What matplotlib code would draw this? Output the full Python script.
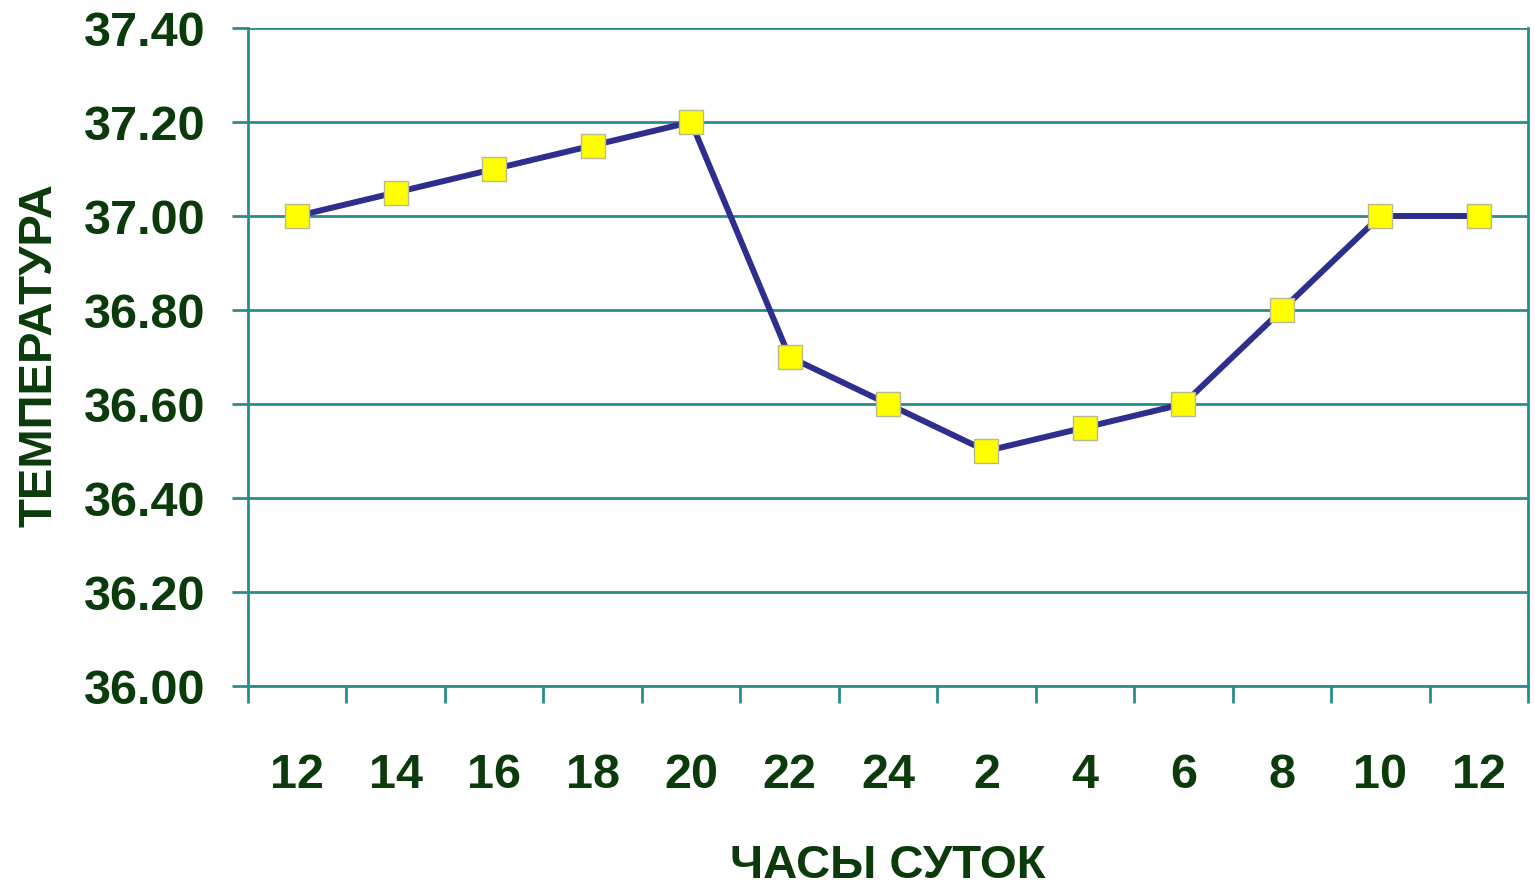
import matplotlib
matplotlib.use("Agg")
import matplotlib.pyplot as plt
from matplotlib import font_manager

hours = ["12", "14", "16", "18", "20", "22", "24", "2", "4", "6", "8", "10", "12"]
temps = [37.00, 37.05, 37.10, 37.15, 37.20, 36.70, 36.60, 36.50, 36.55, 36.60, 36.80, 37.00, 37.00]
yticks = [36.0, 36.2, 36.4, 36.6, 36.8, 37.0, 37.2, 37.4]

names = {f.name for f in font_manager.fontManager.ttflist}
fam = ["Liberation Sans Narrow"] if "Liberation Sans Narrow" in names else ["Liberation Sans"]
plt.rcParams['font.family'] = fam + ["DejaVu Sans"]

text_c = "#0B3A0B"
grid_c = "#2A8C8C"

fig = plt.figure(figsize=(15.35, 8.93), dpi=100)
ax = fig.add_axes([248/1535, 1-686/893, (1528-248)/1535, (686-28)/893])

x = list(range(len(hours)))
ax.plot(x, temps, color="#2E2E8E", lw=4.3, zorder=3,
        marker="s", markersize=17, markerfacecolor="#FFFF00",
        markeredgecolor="#B8B890", markeredgewidth=1.0)

ax.set_ylim(36.0, 37.4)
ax.set_xlim(-0.5, len(hours) - 0.5)
ax.set_yticks(yticks)
ax.set_yticklabels([f"{v:.2f}" for v in yticks])
ax.grid(axis="y", color=grid_c, lw=2)
ax.set_axisbelow(True)

ax.set_xticks([i - 0.5 for i in range(len(hours) + 1)])
ax.set_xticklabels([])
ax.set_xticks(x, minor=True)
ax.set_xticklabels(hours, minor=True)
ax.tick_params(axis="x", which="major", length=12, width=2, color=grid_c, direction="out")
ax.tick_params(axis="x", which="minor", length=0, pad=48, labelsize=35, labelcolor=text_c)
ax.tick_params(axis="y", length=11.5, width=2, color=grid_c, direction="out", pad=19,
               labelsize=35, labelcolor=text_c)
for lab in ax.get_xticklabels(minor=True) + ax.get_yticklabels():
    lab.set_fontweight("bold")

ax.spines["top"].set_visible(False)
for s in ["left", "bottom", "right"]:
    ax.spines[s].set_color(grid_c)
    ax.spines[s].set_linewidth(2)

fig.text(40/1535, 1-355/893, "ТЕМПЕРАТУРА", rotation=90, ha="center", va="center",
         fontsize=34, fontweight="bold", color=text_c)
fig.text(888/1535, 1-866/893, "ЧАСЫ СУТОК", ha="center", va="center",
         fontsize=34, fontweight="bold", color=text_c)

fig.savefig("out.png", dpi=100)
